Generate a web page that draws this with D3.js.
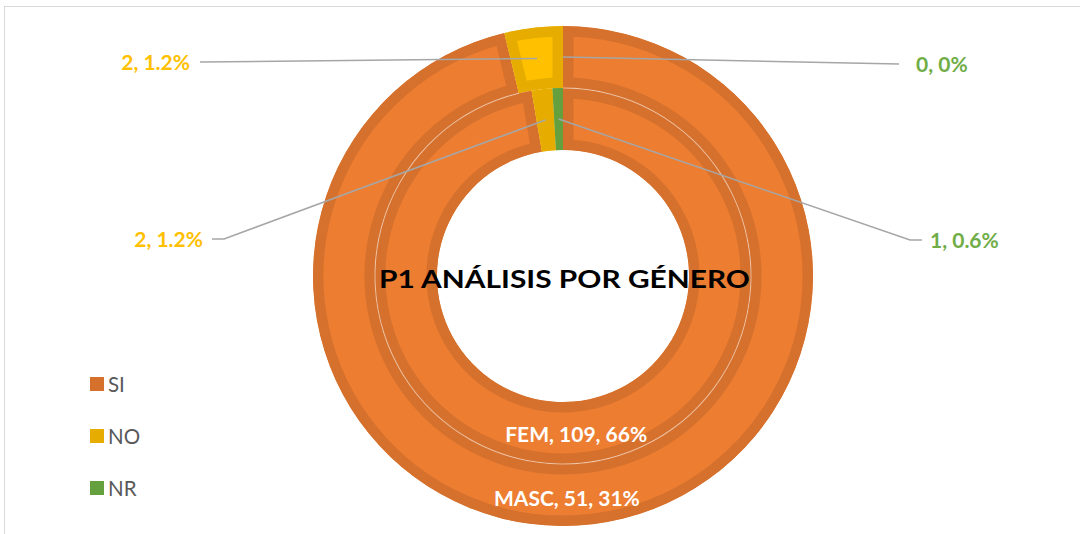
<!DOCTYPE html>
<html>
<head>
<meta charset="utf-8">
<script src="https://cdn.jsdelivr.net/npm/d3@7"></script>
<style>
  html, body { margin: 0; padding: 0; background: #fff; }
  svg { display: block; }
  text { font-family: Lato, "Open Sans", sans-serif; }
</style>
</head>
<body>
<svg id="chart" width="1080" height="534"></svg>
<script>
// ---- data ----
const categories = ["SI", "NO", "NR"];
const ringNames = ["MASC", "FEM"];          // outer ring, inner ring
const mascValues = [51, 2, 0];
const femValues = [109, 2, 1];
const title = "P1 ANÁLISIS POR GÉNERO";

// ---- style ----
const fillColors = ["#ED7D31", "#FFC000", "#70AD47"];
const borderColors = ["#D5712D", "#E6AD00", "#65A03F"];
const labelColors = ["#FFFFFF", "#FFC000", "#70AD47"];

const W = 1080, H = 534;
const cx = 563, cy = 276;
const rOuter = 250, rMid = 188, rInner = 126;
const borderW = 21;

const svg = d3.select("#chart");

// chart frame
svg.append("rect").attr("x", 4.5).attr("y", 6.5).attr("width", W + 20).attr("height", H + 20)
  .attr("fill", "none").attr("stroke", "#D9D9D9").attr("stroke-width", 1);

const total = d3.sum(mascValues) + d3.sum(femValues);
function pctLabel(v) {
  const p = v / total * 100;
  if (p === 0) return "0%";
  if (p >= 10) return Math.round(p) + "%";
  return (Math.round(p * 10) / 10) + "%";
}

const pie = d3.pie().sort(null).value(d => d);
const g = svg.append("g").attr("transform", `translate(${cx},${cy})`);

const rings = [
  { name: ringNames[0], values: mascValues, r0: rMid, r1: rOuter },
  { name: ringNames[1], values: femValues, r0: rInner, r1: rMid }
];

rings.forEach((ring, ri) => {
  ring.arcs = pie(ring.values);
  ring.arcGen = d3.arc().innerRadius(ring.r0).outerRadius(ring.r1);
  ring.arcs.forEach((a, i) => {
    if (a.value === 0) return;
    const d = ring.arcGen(a);
    const id = `clip-${ri}-${i}`;
    svg.append("defs").append("clipPath").attr("id", id).append("path").attr("d", d);
    g.append("path").attr("d", d)
      .attr("fill", fillColors[i])
      .attr("stroke", borderColors[i])
      .attr("stroke-width", borderW)
      .attr("clip-path", `url(#${id})`);
  });
});

// faint separating line between rings where both are orange
const sepEnd = Math.min(rings[0].arcs[0].endAngle, rings[1].arcs[0].endAngle);
g.append("path")
  .attr("d", d3.arc().innerRadius(rMid - 0.5).outerRadius(rMid + 0.5).startAngle(0).endAngle(sepEnd)())
  .attr("fill", "#FFFFFF").attr("opacity", 0.5);

// ---- data labels ----
// label layout (Excel-style dragged labels) keyed by ring-category
const labelLayout = {
  "0-1": { x: 190, y: 70, anchor: "end", lineTo: [[200, 62]] },
  "0-2": { x: 916, y: 72, anchor: "start", lineTo: [[899, 64]] },
  "1-1": { x: 203, y: 247, anchor: "end", lineTo: [[224, 239], [212, 239]] },
  "1-2": { x: 930, y: 248, anchor: "start", lineTo: [[910, 240], [922, 240]] }
};

rings.forEach((ring, ri) => {
  ring.arcs.forEach((a, i) => {
    const key = `${ri}-${i}`;
    const c = ring.arcGen.centroid(a);
    if (i === 0) {
      const nudge = ri === 0 ? -22 : 0;
      g.append("text")
        .attr("x", c[0] + nudge).attr("y", c[1] + 7.5 + (ri === 0 ? 5 : 2))
        .attr("text-anchor", "middle")
        .attr("fill", labelColors[0]).attr("font-weight", 700).attr("font-size", 21)
        .text(`${ring.name}, ${a.value}, ${pctLabel(a.value)}`);
      return;
    }
    const L = labelLayout[key];
    const pts = [[cx + c[0], cy + c[1]], ...L.lineTo];
    svg.append("path").attr("d", d3.line()(pts))
      .attr("fill", "none").attr("stroke", "#A6A6A6").attr("stroke-width", 1.5);
    svg.append("text")
      .attr("x", L.x).attr("y", L.y).attr("text-anchor", L.anchor)
      .attr("fill", labelColors[i]).attr("font-weight", 700).attr("font-size", 21)
      .text(`${a.value}, ${pctLabel(a.value)}`);
  });
});

// ---- title ----
svg.append("text")
  .attr("x", 379).attr("y", 288)
  .attr("textLength", 371).attr("lengthAdjust", "spacingAndGlyphs")
  .attr("fill", "#000").attr("font-weight", 700).attr("font-size", 25.5)
  .text(title);

// ---- legend ----
const legendY = d3.scalePoint().domain(categories).range([384, 488]);
const lg = svg.append("g");
categories.forEach((cat, i) => {
  lg.append("rect").attr("x", 90).attr("y", legendY(cat) - 7).attr("width", 14).attr("height", 14)
    .attr("fill", borderColors[i]);
  lg.append("text").attr("x", 108).attr("y", legendY(cat) + 7.5)
    .attr("fill", "#595959").attr("font-size", 20.5).text(cat);
});
</script>
</body>
</html>
